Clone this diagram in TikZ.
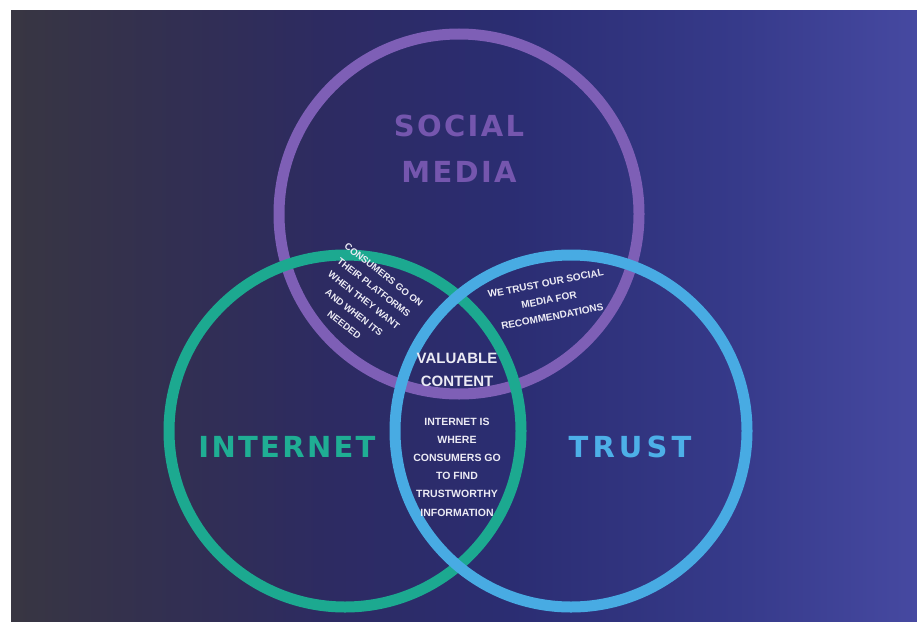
\documentclass[tikz,border=0pt]{standalone}
\usepackage{fontspec}
\setmainfont{Liberation Sans}
\newfontfamily\headfont{DejaVu Sans}
% backdrop gradient, dark slate on the left to indigo on the right
\definecolor{bgA}{HTML}{383642}
\definecolor{bgB}{HTML}{33304F}
\definecolor{bgC}{HTML}{2D2B62}
\definecolor{bgD}{HTML}{2B2D72}
\definecolor{bgE}{HTML}{363A8A}
\definecolor{bgF}{HTML}{4649A1}
% the filled path maps onto the 25bp--75bp band of the shading
\pgfdeclarehorizontalshading{backdrop}{100bp}{%
  color(0bp)=(bgA); color(25bp)=(bgA); color(32.5bp)=(bgB); color(42.5bp)=(bgC);
  color(52.5bp)=(bgD); color(65bp)=(bgE); color(75bp)=(bgF); color(100bp)=(bgF)}
% ring and heading colours
\definecolor{ringPurple}{HTML}{7E5FB6}
\definecolor{ringTeal}{HTML}{1CA990}
\definecolor{ringBlue}{HTML}{48ABE3}
\definecolor{headPurple}{HTML}{7556AE}
\definecolor{headTeal}{HTML}{1FAE94}
\definecolor{headBlue}{HTML}{4DB0E8}
\definecolor{noteWhite}{HTML}{ECEBF4}
\begin{document}
\begin{tikzpicture}[x=1pt,y=-1pt,
  ring/.style={circle, draw, line width=11pt, inner sep=0pt, outer sep=0pt, minimum size=#1},
  headline/.style={inner sep=0pt, align=center,
    font=\headfont\bfseries\addfontfeature{LetterSpace=8}\fontsize{29}{46}\selectfont},
  note/.style={inner sep=0pt, align=center, text=noteWhite,
    font=\bfseries\fontsize{#1}{#1}\selectfont}]
\useasboundingbox (0,0) rectangle (917,626);
\fill[white] (0,0) rectangle (917,626);
\shade[shading=backdrop] (11,11) rectangle (917,621);

% the three overlapping rings
\node[ring=360pt, draw=ringPurple] (social) at (459,214) {};
\node[ring=352pt, draw=ringTeal] (internet) at (345,431) {};
\node[ring=352pt, draw=ringBlue] (trust) at (571,431) {};

% ring headings
\node[headline, text=headPurple] (socialtitle) at (459,149) {SOCIAL\\MEDIA};
\node[headline, text=headTeal] (internettitle) at (287,447) {INTERNET};
\node[headline, text=headBlue, font=\headfont\bfseries\addfontfeature{LetterSpace=14}\fontsize{29}{46}\selectfont] (trusttitle) at (630,447) {TRUST};

% centre of the diagram
\node[note=15, font=\bfseries\fontsize{15}{23}\selectfont] (valuable) at (457,370) {VALUABLE\\CONTENT};
\node[note=10.5, font=\bfseries\fontsize{10.5}{18.2}\selectfont] (centrenote) at (457,467)
  {INTERNET IS\\WHERE\\CONSUMERS GO\\TO FIND\\TRUSTWORTHY\\INFORMATION};

% notes in the pairwise overlaps
\node[note=10, font=\bfseries\fontsize{10}{17}\selectfont, rotate=11] (socialtrust) at (549,300)
  {WE TRUST OUR SOCIAL\\MEDIA FOR\\RECOMMENDATIONS};
\node[note=9.5, font=\bfseries\fontsize{9.5}{16}\selectfont, rotate=-38] (socialinternet) at (364,300)
  {CONSUMERS GO ON\\THEIR PLATFORMS\\WHEN THEY WANT\\AND WHEN ITS\\NEEDED};
\end{tikzpicture}
\end{document}
